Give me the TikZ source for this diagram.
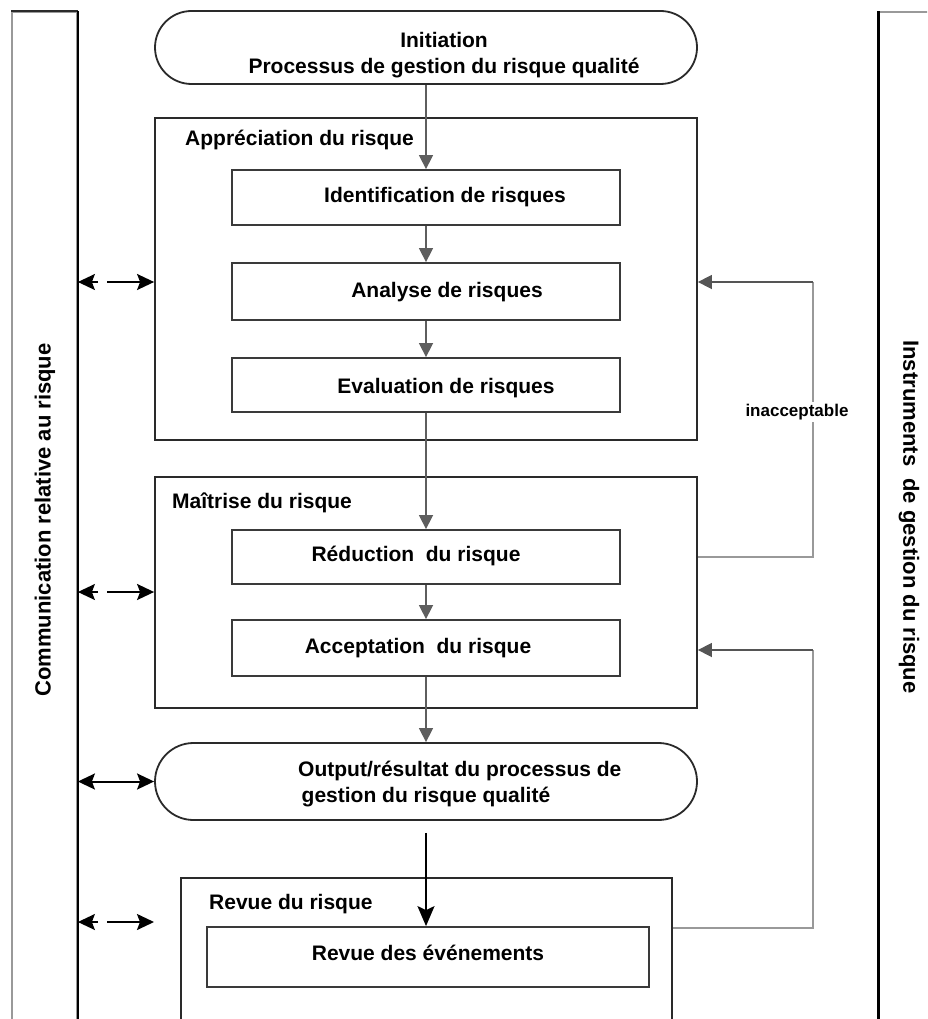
\documentclass[tikz,border=0pt]{standalone}
\usepackage{fontspec}
\setmainfont{Liberation Sans}
\usetikzlibrary{shapes.misc,arrows.meta}
\definecolor{boxgray}{HTML}{2A2A2A}
\definecolor{innergray}{HTML}{3A3A3A}
\definecolor{flowgray}{HTML}{5E5E5E}
\definecolor{fbgray}{HTML}{999999}
\definecolor{fbdark}{HTML}{555555}
\begin{document}
\begin{tikzpicture}[x=1pt,y=-1pt,
  every node/.style={font=\fontsize{21}{26}\selectfont\bfseries, inner sep=0pt},
  bigbox/.style={draw=boxgray, line width=1.8pt, rectangle},
  innerbox/.style={draw=innergray, line width=1.8pt, rectangle, minimum width=388pt},
  stadium/.style={draw=boxgray, line width=1.8pt, rounded rectangle, minimum width=542pt},
  sidebox/.style={draw=fbgray, line width=1.8pt, rectangle},
  txt/.style={text=black},
  vtxt/.style={text=black, font=\fontsize{22}{26}\selectfont\bfseries},
  flow/.style={draw=flowgray, line width=1.5pt, -{Triangle[length=14pt,width=14pt]}},
  bigflow/.style={draw=black, line width=1.8pt, -{Stealth[length=20pt,width=17pt,inset=4pt]}},
  fbline/.style={draw=fbgray, line width=1.8pt},
  fbarrow/.style={draw=fbdark, line width=1.6pt, -{Triangle[length=14pt,width=14pt]}},
  headonly/.style={draw=black, line width=1.4pt, -{Stealth[length=17pt,width=16pt,inset=3pt]}},
  commarrow/.style={draw=black, line width=2pt, -{Stealth[length=17pt,width=16pt,inset=3pt]}},
  commdouble/.style={draw=black, line width=2pt, {Stealth[length=17pt,width=16pt,inset=3pt]}-{Stealth[length=17pt,width=16pt,inset=3pt]}},
  smalltxt/.style={font=\fontsize{17}{20}\selectfont\bfseries, fill=white, inner sep=2pt}
]
\path[use as bounding box] (0,0) rectangle (927,1019);
\clip (0,0) rectangle (927,1019);

% side boxes
\node[sidebox, minimum width=65pt, minimum height=1040pt] (comm) at (44.5,532) {};
\draw[boxgray, line width=1.8pt] (comm.north west) -- (comm.north east);
\draw[black, line width=2.8pt] (comm.north east) -- (comm.south east);
\node[sidebox, minimum width=81pt, minimum height=1040pt] (instr) at (919.5,532) {};
\draw[black, line width=2.8pt] (instr.north west) -- (instr.south west);
\node[vtxt, rotate=90] (commtxt) at (45,520) {Communication relative au risque};
\node[vtxt, rotate=-90] (instrtxt) at (909,517) {Instruments~~de gestion du risque};

% initiation
\node[stadium, minimum height=73pt] (init) at (426,47.5) {};
\node[txt, align=center] (inittxt) at (444,55) {Initiation\\Processus de gestion du risque qualité};

% appreciation
\node[bigbox, minimum width=542pt, minimum height=322pt] (app) at (426,279) {};
\node[txt, anchor=west] (apptxt) at (185,140) {Appréciation du risque};
\node[innerbox, minimum height=55pt] (ident) at (426,197.5) {};
\node[txt] (identtxt) at (445,197) {Identification de risques};
\node[innerbox, minimum height=57pt] (ana) at (426,291.5) {};
\node[txt] (anatxt) at (447,292) {Analyse de risques};
\node[innerbox, minimum height=54pt] (eval) at (426,385) {};
\node[txt] (evaltxt) at (446,388) {Evaluation de risques};

% maitrise
\node[bigbox, minimum width=542pt, minimum height=231pt] (mait) at (426,592.5) {};
\node[txt, anchor=west] (maittxt) at (172,503) {Maîtrise du risque};
\node[innerbox, minimum height=54pt] (red) at (426,557) {};
\node[txt] (redtxt) at (416,556) {Réduction~~du risque};
\node[innerbox, minimum height=56pt] (acc) at (426,648) {};
\node[txt] (acctxt) at (418,648) {Acceptation~~du risque};

% output
\node[stadium, minimum height=77pt] (out) at (426,781.5) {};
\node[txt, align=left, anchor=west] (outtxt) at (298,784.5) {Output/résultat du processus de\\\,gestion du risque qualité};

% revue
\node[bigbox, minimum width=491pt, minimum height=162pt] (rev) at (426.5,959) {};
\node[txt, anchor=west] (revtxt) at (209,904) {Revue du risque};
\node[innerbox, minimum width=442pt, minimum height=60pt] (revin) at (428,957) {};
\node[txt] (revintxt) at (428,953) {Revue des événements};

% main flow
\draw[flow] (init) -- (ident);
\draw[flow] (ident) -- (ana);
\draw[flow] (ana) -- (eval);
\draw[flow] (eval) -- (red);
\draw[flow] (red) -- (acc);
\draw[flow] (acc) -- (out);
\draw[bigflow, shorten <=12pt] (out.south) -- (out.south |- revin.north);

% feedback loops
\coordinate (fb1) at (813,282);
\coordinate (fb2) at (813,650);
\draw[fbline] (mait.east |- red.east) -| (fb1);
\draw[fbarrow] (fb1) -- (app.east |- fb1);
\draw[fbline] (rev.east |- 0,928) -| (fb2);
\draw[fbarrow] (fb2) -- (mait.east |- fb2);
\node[smalltxt] (inacc) at (797,412) {inacceptable};

% communication arrows
\coordinate (h1) at (98,282);
\coordinate (a1) at (107,282);
\coordinate (h2) at (98,592);
\coordinate (a2) at (107,592);
\coordinate (h3) at (98,922);
\coordinate (a3) at (107,922);
\coordinate (e3) at (154,922);
\draw[headonly] (h1) -- (comm.east |- h1);
\draw[commarrow] (a1) -- (app.west |- a1);
\draw[headonly] (h2) -- (comm.east |- h2);
\draw[commarrow] (a2) -- (mait.west |- a2);
\draw[headonly] (h3) -- (comm.east |- h3);
\draw[commarrow] (a3) -- (e3);
\draw[commdouble] (comm.east |- out.west) -- (out.west);
\end{tikzpicture}
\end{document}
